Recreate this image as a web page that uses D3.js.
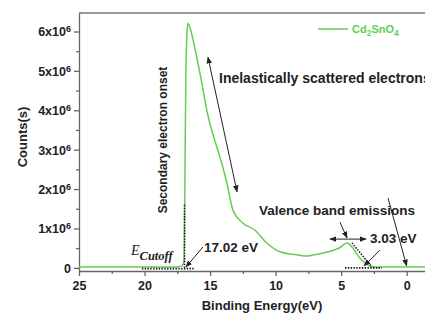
<!DOCTYPE html>
<html>
<head>
<meta charset="utf-8">
<style>
body { margin: 0; background: #fff; }
text { font-family: "Liberation Sans", Arial, sans-serif; font-weight: bold; fill: #222; }
.tick text { font-size: 12px; }
.domain, .tick line { stroke: #666; stroke-width: 1.3px; }
.dot { fill: none; stroke: #111; stroke-width: 1.6px; stroke-dasharray: 1.4,1.4; }
.arr { fill: none; stroke: #222; stroke-width: 1px; }
</style>
</head>
<body>
<script src="https://cdn.jsdelivr.net/npm/d3@7"></script>
<script>

// spectrum: binding energy (eV) vs counts (x10^6)
var energy = [25, 22, 20, 18, 17.4, 17.15, 17.0, 16.95, 16.9, 16.85, 16.78, 16.69, 16.45, 16.16, 15.65, 15.17, 14.7,
              14.25, 13.72, 13.26, 12.5, 11.59, 10.67, 9.68, 8.38, 7.77, 6.63, 5.49, 5.11, 4.57, 4.12, 3.66, 3.2, 2.67, 2.0, 0, -1.5];
var counts = [0.02, 0.02, 0.02, 0.02, 0.03, 0.05, 0.15, 0.9, 3.0, 4.8, 5.8, 6.21, 6.0, 5.58, 4.73, 3.88, 3.3,
              2.82, 2.16, 1.47, 1.14, 0.96, 0.63, 0.41, 0.33, 0.30, 0.36, 0.46, 0.51, 0.63, 0.51, 0.28, 0.13, 0.03, 0.02, 0.02, 0.02];

var xTicks = [25, 20, 15, 10, 5, 0];
var yTicks = [0, 1, 2, 3, 4, 5, 6];

// annotation lines [E1, c1, E2, c2]
var dotted = [[16.95, 0, 16.95, 1.6], [20.2, -0.02, 16.15, -0.02], [4.17, 0.63, 2.64, 0.02], [4.7, 0, 1.88, 0]];
var arrows = [[15.54, 0.53, 16.84, 0.02], [5.09, 1.16, 4.55, 0.76], [2.03, 0.45, 3.25, 0.05], [1.42, 1.77, 0.0, 0.05]];
var doubleArrows = [[15.16, 5.35, 12.94, 1.93], [5.85, 0.73, 3.1, 0.73]];

var width = 425, height = 315;
var green = "#66cc55";

var svg = d3.select("body").append("svg")
    .attr("width", width)
    .attr("height", height);

var defs = svg.append("defs");
defs.append("marker")
    .attr("id", "head")
    .attr("viewBox", "0 0 10 10")
    .attr("refX", 9).attr("refY", 5)
    .attr("markerWidth", 7).attr("markerHeight", 7)
    .attr("markerUnits", "userSpaceOnUse")
    .attr("orient", "auto-start-reverse")
  .append("path")
    .attr("d", "M0,1 L10,5 L0,9 Z")
    .attr("fill", "#222");

var x = d3.scaleLinear().domain([25, -1.4]).range([79, 425]);
var y = d3.scaleLinear().domain([-0.08, 6.47]).range([271, 13]);

// top frame
svg.append("line")
    .attr("x1", 79).attr("x2", width)
    .attr("y1", 13).attr("y2", 13)
    .attr("stroke", "#777").attr("stroke-width", 1.3);

// minor ticks
svg.append("g")
    .attr("transform", "translate(0,271)")
    .call(d3.axisBottom(x).tickValues(d3.range(22.5, -1.4, -5)).tickSize(3).tickFormat(""))
    .select(".domain").remove();
svg.append("g")
    .attr("transform", "translate(79,0)")
    .call(d3.axisLeft(y).tickValues(d3.range(0.5, 6.5, 1)).tickSize(3).tickFormat(""))
    .select(".domain").remove();

var xAxis = svg.append("g")
    .attr("transform", "translate(0,271)")
    .call(d3.axisBottom(x).tickValues(xTicks).tickSize(5).tickSizeOuter(0).tickPadding(5));
xAxis.selectAll(".tick text").style("font-size", "12.5px");

var yAxis = svg.append("g")
    .attr("transform", "translate(79,0)")
    .call(d3.axisLeft(y).tickValues(yTicks).tickSize(5).tickSizeOuter(0).tickFormat(""));

yAxis.selectAll(".tick").each(function(d) {
  var t = d3.select(this).append("text")
      .attr("x", -8).attr("dy", "0.35em")
      .attr("text-anchor", "end")
      .style("font-size", "12.5px");
  if (d === 0) {
    t.text("0");
  } else {
    t.text(d + "x10");
    t.append("tspan").attr("dy", "-0.45em").style("font-size", "9px").text("6");
  }
});

// spectrum line
var pts = energy.map(function(e, i) { return [e, counts[i]]; });
var line = d3.line()
    .x(function(d) { return x(d[0]); })
    .y(function(d) { return y(d[1]); })
    .curve(d3.curveMonotoneX);

svg.append("path")
    .datum(pts)
    .attr("d", line)
    .attr("fill", "none")
    .attr("stroke", green)
    .attr("stroke-width", 1.5);

// annotation lines
svg.selectAll(".dot").data(dotted).enter().append("line")
    .attr("class", "dot")
    .attr("x1", function(d) { return x(d[0]); }).attr("y1", function(d) { return y(d[1]); })
    .attr("x2", function(d) { return x(d[2]); }).attr("y2", function(d) { return y(d[3]); });

svg.selectAll(".arr1").data(arrows).enter().append("line")
    .attr("class", "arr")
    .attr("x1", function(d) { return x(d[0]); }).attr("y1", function(d) { return y(d[1]); })
    .attr("x2", function(d) { return x(d[2]); }).attr("y2", function(d) { return y(d[3]); })
    .attr("marker-end", "url(#head)");

svg.selectAll(".arr2").data(doubleArrows).enter().append("line")
    .attr("class", "arr")
    .attr("x1", function(d) { return x(d[0]); }).attr("y1", function(d) { return y(d[1]); })
    .attr("x2", function(d) { return x(d[2]); }).attr("y2", function(d) { return y(d[3]); })
    .attr("marker-start", "url(#head)")
    .attr("marker-end", "url(#head)");

// labels
svg.append("text")
    .attr("x", 219).attr("y", 83)
    .style("font-size", "14px")
    .text("Inelastically scattered electrons");

svg.append("text")
    .attr("transform", "translate(167,140) rotate(-90)")
    .attr("text-anchor", "middle")
    .style("font-size", "12px")
    .text("Secondary electron onset");

svg.append("text")
    .attr("x", 204).attr("y", 252)
    .style("font-size", "13.5px")
    .text("17.02 eV");

svg.append("text")
    .attr("x", 259).attr("y", 215)
    .style("font-size", "13.5px")
    .text("Valence band emissions");

svg.append("text")
    .attr("x", 370).attr("y", 243)
    .style("font-size", "13.5px")
    .text("3.03 eV");

var ec = svg.append("text")
    .attr("x", 131).attr("y", 255)
    .style("font-family", "'Liberation Serif', 'Times New Roman', serif")
    .style("font-style", "italic")
    .style("font-weight", "normal")
    .style("font-size", "14px")
    .text("E");
ec.append("tspan")
    .attr("dy", 5)
    .style("font-weight", "bold")
    .style("font-size", "12.5px")
    .text("Cutoff");

// axis titles
svg.append("text")
    .attr("x", 262).attr("y", 310)
    .attr("text-anchor", "middle")
    .style("font-size", "13px")
    .text("Binding Energy(eV)");

svg.append("text")
    .attr("transform", "translate(27,137) rotate(-90)")
    .attr("text-anchor", "middle")
    .style("font-size", "13px")
    .text("Counts(s)");

// legend
svg.append("line")
    .attr("x1", 318).attr("x2", 348)
    .attr("y1", 29).attr("y2", 29)
    .attr("stroke", green).attr("stroke-width", 1.5);

var lg = svg.append("text")
    .attr("x", 352).attr("y", 33)
    .style("font-size", "11px")
    .style("fill", green);
lg.append("tspan").text("Cd");
lg.append("tspan").attr("dy", 3).style("font-size", "8.5px").text("2");
lg.append("tspan").attr("dy", -3).text("SnO");
lg.append("tspan").attr("dy", 3).style("font-size", "8.5px").text("4");

</script>
</body>
</html>
